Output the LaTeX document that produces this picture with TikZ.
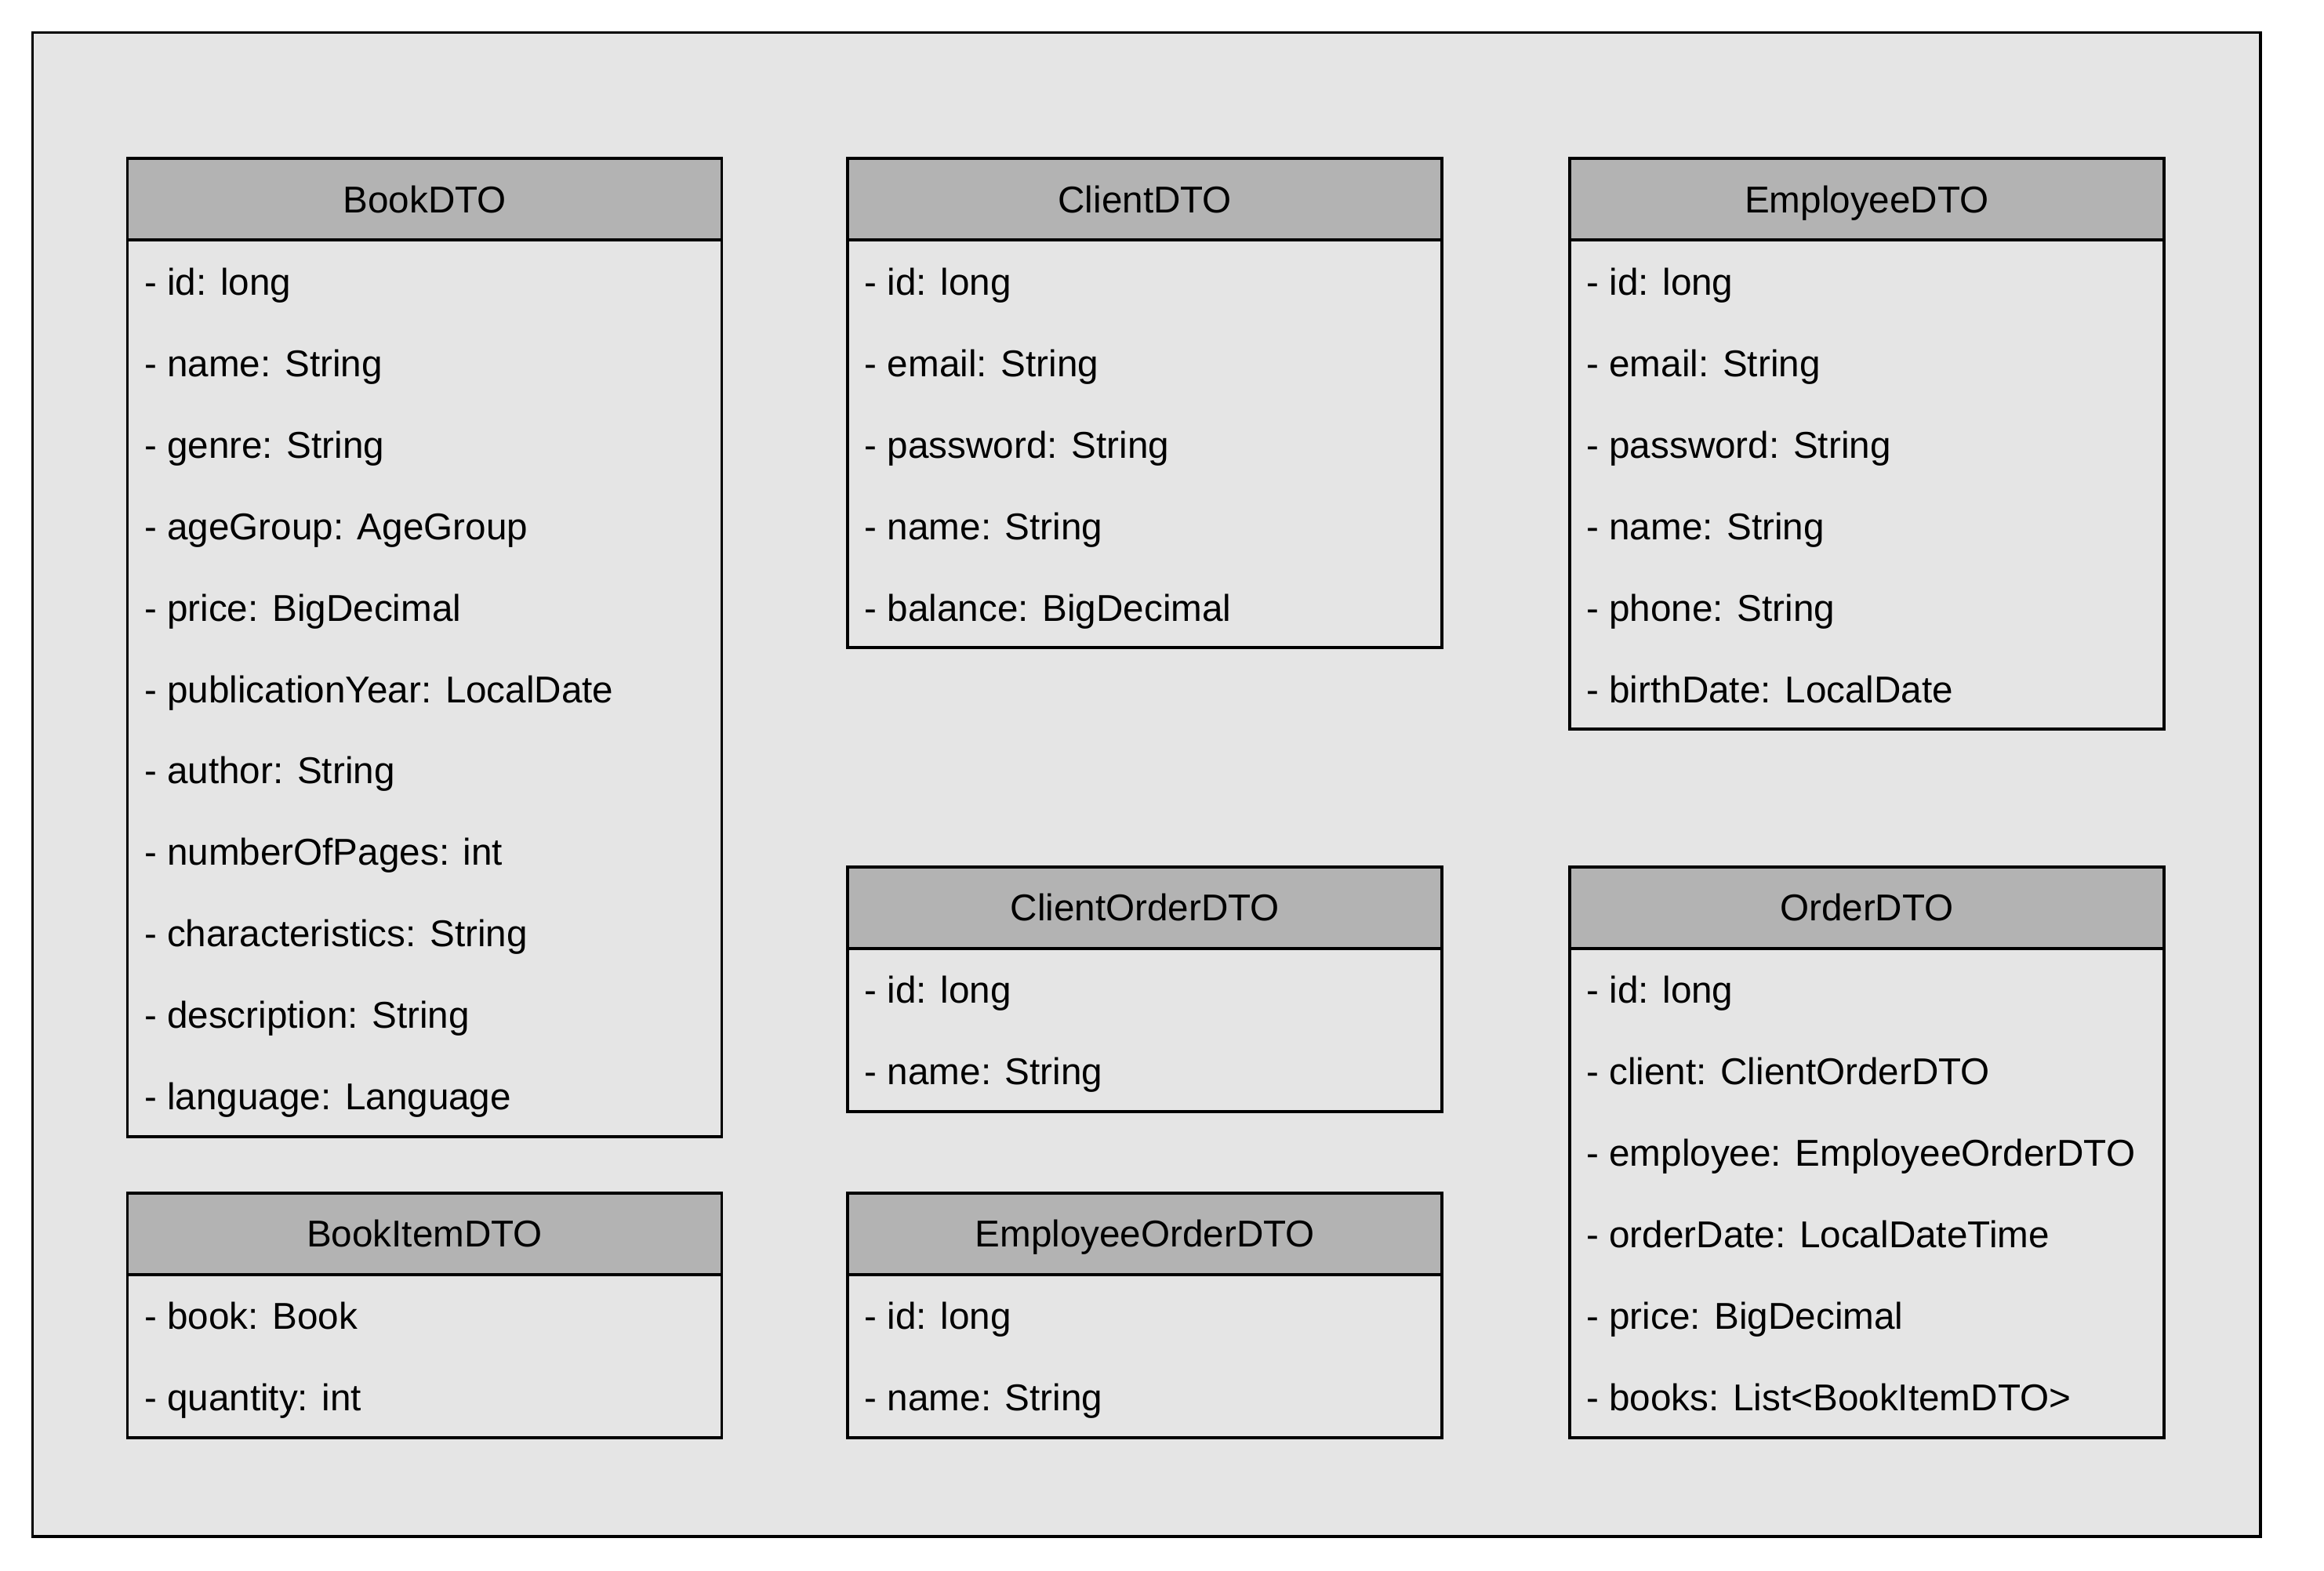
\documentclass[tikz,border=0pt]{standalone}
\usepackage{fontspec}
\setmainfont{Liberation Sans}
\usetikzlibrary{positioning,calc}
\definecolor{panelgray}{HTML}{E5E5E5}
\definecolor{headgray}{HTML}{B3B3B3}

\begin{document}
\begin{tikzpicture}[
      x=0.5pt, y=-0.5pt,
      every node/.style={font=\fontsize{12.6}{15}\selectfont},
      panel/.style={draw,line width=1pt,fill=panelgray},
      head/.style={rectangle,draw,line width=1pt,fill=headgray,anchor=north west,
                   minimum width=200.5pt,minimum height=27.5pt,inner sep=0pt,outer sep=0pt,
                   text height=9pt,text depth=0pt},
      body/.style={rectangle,draw,line width=1pt,fill=panelgray,
                   minimum width=200.5pt,inner sep=0pt,outer sep=0pt},
      attr/.style={anchor=base west,inner sep=0pt}
  ]
  \useasboundingbox (0,0) rectangle (1568,1060);

  % ===================== panel =====================
  \draw[panel] (22,22) rectangle (1525,1037);

  % ===================== left column =====================
  \node[head] (book) at (86,107) {BookDTO};
  \node[body,minimum height=302.5pt,below=0pt of book] (bookbody) {};
  \foreach \a [count=\i] in {- id: long, - name: String, - genre: String,
      - ageGroup: AgeGroup, - price: BigDecimal, - publicationYear: LocalDate,
      - author: String, - numberOfPages: int, - characteristics: String,
      - description: String, - language: Language}
    \node[attr] (book-\i) at ($(bookbody.north west)+(11,55*\i-18)$) {\a};

  \node[head] (bookitem) at (86,805) {BookItemDTO};
  \node[body,minimum height=55pt,below=0pt of bookitem] (bookitembody) {};
  \foreach \a [count=\i] in {- book: Book, - quantity: int}
    \node[attr] (bookitem-\i) at ($(bookitembody.north west)+(11,55*\i-18)$) {\a};

  % ===================== middle column =====================
  \node[head] (client) at (572,107) {ClientDTO};
  \node[body,minimum height=137.5pt,below=0pt of client] (clientbody) {};
  \foreach \a [count=\i] in {- id: long, - email: String, - password: String,
      - name: String, - balance: BigDecimal}
    \node[attr] (client-\i) at ($(clientbody.north west)+(11,55*\i-18)$) {\a};

  \node[head] (clientorder) at (572,585) {ClientOrderDTO};
  \node[body,minimum height=55pt,below=0pt of clientorder] (clientorderbody) {};
  \foreach \a [count=\i] in {- id: long, - name: String}
    \node[attr] (clientorder-\i) at ($(clientorderbody.north west)+(11,55*\i-18)$) {\a};

  \node[head] (emporder) at (572,805) {EmployeeOrderDTO};
  \node[body,minimum height=55pt,below=0pt of emporder] (emporderbody) {};
  \foreach \a [count=\i] in {- id: long, - name: String}
    \node[attr] (emporder-\i) at ($(emporderbody.north west)+(11,55*\i-18)$) {\a};

  % ===================== right column =====================
  \node[head] (employee) at (1059,107) {EmployeeDTO};
  \node[body,minimum height=165pt,below=0pt of employee] (employeebody) {};
  \foreach \a [count=\i] in {- id: long, - email: String, - password: String,
      - name: String, - phone: String, - birthDate: LocalDate}
    \node[attr] (employee-\i) at ($(employeebody.north west)+(11,55*\i-18)$) {\a};

  \node[head] (order) at (1059,585) {OrderDTO};
  \node[body,minimum height=165pt,below=0pt of order] (orderbody) {};
  \foreach \a [count=\i] in {- id: long, - client: ClientOrderDTO,
      - employee: EmployeeOrderDTO, - orderDate: LocalDateTime,
      - price: BigDecimal, - books: List<BookItemDTO>}
    \node[attr] (order-\i) at ($(orderbody.north west)+(11,55*\i-18)$) {\a};

\end{tikzpicture}
\end{document}
